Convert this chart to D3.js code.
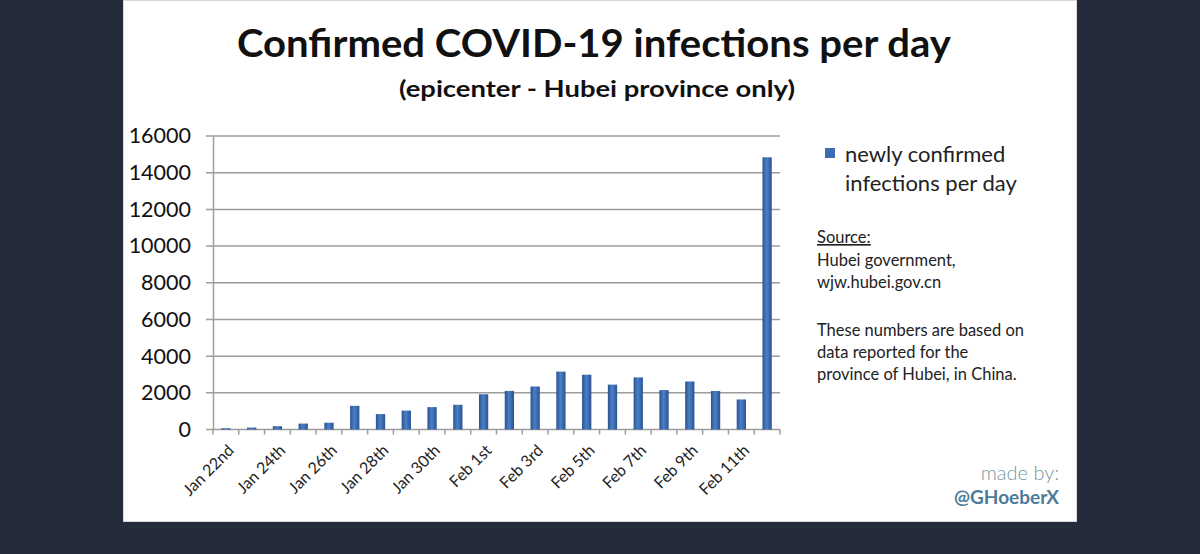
<!DOCTYPE html>
<html>
    <head>
        <meta charset="utf-8">
        <title>Confirmed COVID-19 infections per day</title>
        <script src="https://d3js.org/d3.v7.min.js"></script>
        <style>
            body { margin: 0; background: #242c3b; }
            text { font-family: Lato, "Open Sans", sans-serif; }
        </style>
    </head>

    <body>
        <div id="chart"></div>
    </body>

    <script>
        // data (Hubei, new confirmed cases per day)
        var days = ["Jan 22nd", "Jan 23rd", "Jan 24th", "Jan 25th", "Jan 26th", "Jan 27th",
            "Jan 28th", "Jan 29th", "Jan 30th", "Jan 31st", "Feb 1st", "Feb 2nd", "Feb 3rd",
            "Feb 4th", "Feb 5th", "Feb 6th", "Feb 7th", "Feb 8th", "Feb 9th", "Feb 10th",
            "Feb 11th", "Feb 12th"]
        var newCases = [70, 105, 180, 323, 371, 1291, 840, 1032, 1220, 1347, 1921, 2103, 2345,
            3156, 2987, 2447, 2841, 2147, 2618, 2097, 1638, 14840]
        var labelledDays = ["Jan 22nd", "Jan 24th", "Jan 26th", "Jan 28th", "Jan 30th", "Feb 1st",
            "Feb 3rd", "Feb 5th", "Feb 7th", "Feb 9th", "Feb 11th"]
        var yTicks = [0, 2000, 4000, 6000, 8000, 10000, 12000, 14000, 16000]

        var data = days.map(function(d, i) { return { day: d, value: newCases[i] } })

        var W = 1200, H = 554
        var plot = { left: 213, right: 780, top: 136, bottom: 429.5 }

        var svg = d3.select("#chart")
            .append("svg")
            .attr("width", W)
            .attr("height", H)

        // white card on dark background
        svg.append("rect")
            .attr("x", 123.5).attr("y", 0.5)
            .attr("width", 953).attr("height", 521)
            .attr("fill", "#fff")
            .attr("stroke", "#d8d8d8")

        // bar gradient
        var grad = svg.append("defs").append("linearGradient")
            .attr("id", "barGrad")
            .attr("x1", "0%").attr("x2", "100%")
        grad.append("stop").attr("offset", "0%").attr("stop-color", "#2a5392")
        grad.append("stop").attr("offset", "45%").attr("stop-color", "#4b7fc6")
        grad.append("stop").attr("offset", "100%").attr("stop-color", "#2a5392")

        // title
        svg.append("text")
            .attr("x", 594).attr("y", 57)
            .attr("text-anchor", "middle")
            .attr("font-size", 39).attr("font-weight", "bold")
            .attr("textLength", 714).attr("lengthAdjust", "spacingAndGlyphs")
            .attr("fill", "#111")
            .text("Confirmed COVID-19 infections per day")

        svg.append("text")
            .attr("x", 597).attr("y", 97)
            .attr("text-anchor", "middle")
            .attr("font-size", 23).attr("font-weight", "bold")
            .attr("textLength", 396).attr("lengthAdjust", "spacingAndGlyphs")
            .attr("fill", "#111")
            .text("(epicenter - Hubei province only)")

        // scales
        var x = d3.scaleBand()
            .domain(days)
            .range([plot.left, plot.right])
            .paddingInner(0.64)
            .paddingOuter(0.32)

        var y = d3.scaleLinear()
            .domain([0, 16000])
            .range([plot.bottom, plot.top])

        // gridlines
        svg.append("g")
            .selectAll("line")
            .data(yTicks)
            .enter()
            .append("line")
            .attr("x1", plot.left - 7)
            .attr("x2", plot.right)
            .attr("y1", function(d) { return y(d) })
            .attr("y2", function(d) { return y(d) })
            .attr("stroke", "#9c9c9c")
            .attr("stroke-width", 1.5)

        // y axis
        var yAxis = svg.append("g")
            .attr("transform", "translate(" + plot.left + ",0)")
            .call(d3.axisLeft(y).tickValues(yTicks).tickSize(0).tickPadding(22).tickFormat(d3.format("d")))
        yAxis.select(".domain").attr("stroke", "#9c9c9c").attr("stroke-width", 1.5)
        yAxis.selectAll("text")
            .attr("font-family", "Lato, sans-serif")
            .attr("font-size", 21.5)
            .attr("fill", "#111")

        // x axis ticks at category boundaries
        var step = x.step()
        var bounds = d3.range(days.length + 1).map(function(i) { return plot.left + i * step })
        svg.append("g")
            .selectAll("line")
            .data(bounds)
            .enter()
            .append("line")
            .attr("x1", function(d) { return d })
            .attr("x2", function(d) { return d })
            .attr("y1", plot.bottom)
            .attr("y2", plot.bottom + 5)
            .attr("stroke", "#9c9c9c")
            .attr("stroke-width", 1.5)

        // bars
        svg.append("g")
            .selectAll("rect")
            .data(data)
            .enter()
            .append("rect")
            .attr("x", function(d) { return x(d.day) })
            .attr("width", x.bandwidth())
            .attr("y", function(d) { return y(d.value) })
            .attr("height", function(d) { return y(0) - y(d.value) })
            .attr("fill", "url(#barGrad)")

        // x labels, rotated
        svg.append("g")
            .selectAll("text")
            .data(labelledDays)
            .enter()
            .append("text")
            .attr("transform", function(d) {
                return "translate(" + (x(d) + x.bandwidth() / 2 + 9) + "," + (plot.bottom + 22) + ") rotate(-45)"
            })
            .attr("text-anchor", "end")
            .attr("font-size", 16)
            .attr("fill", "#222")
            .text(function(d) { return d })

        // legend
        svg.append("rect")
            .attr("x", 825).attr("y", 148)
            .attr("width", 10).attr("height", 10)
            .attr("fill", "#3c6cb4")
        var leg = svg.append("text")
            .attr("font-size", 22).attr("fill", "#222")
        leg.append("tspan").attr("x", 845).attr("y", 162).text("newly confirmed")
        leg.append("tspan").attr("x", 845).attr("y", 191).text("infections per day")

        // source notes
        var notes = [
            { t: "Source:", y: 243, u: true },
            { t: "Hubei government,", y: 266 },
            { t: "wjw.hubei.gov.cn", y: 288 },
            { t: "These numbers are based on", y: 336 },
            { t: "data reported for the", y: 358 },
            { t: "province of Hubei, in China.", y: 380 }
        ]
        svg.append("g")
            .selectAll("text")
            .data(notes)
            .enter()
            .append("text")
            .attr("x", 817)
            .attr("y", function(d) { return d.y })
            .attr("font-size", 16.5)
            .attr("fill", "#222")
            .attr("text-decoration", function(d) { return d.u ? "underline" : null })
            .text(function(d) { return d.t })

        // credit
        svg.append("text")
            .attr("x", 1059).attr("y", 480)
            .attr("text-anchor", "end")
            .attr("font-size", 20).attr("font-weight", 300)
            .attr("fill", "#7795a3")
            .text("made by:")
        svg.append("text")
            .attr("x", 1059).attr("y", 504)
            .attr("text-anchor", "end")
            .attr("font-size", 19).attr("font-weight", "bold")
            .attr("fill", "#4c7c99")
            .text("@GHoeberX")
    </script>
</html>
